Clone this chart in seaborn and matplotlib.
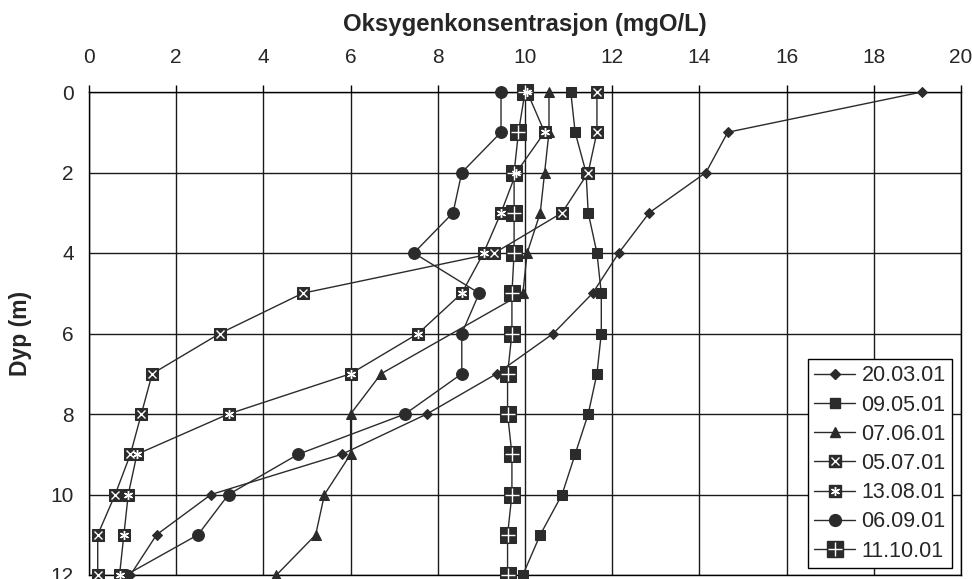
import numpy as np
import pandas as pd
import matplotlib
matplotlib.use("Agg")
import matplotlib.pyplot as plt
import matplotlib.lines as mlines
from matplotlib.legend_handler import HandlerTuple
import seaborn as sns

# Dybde (m) og oksygenkonsentrasjon (mgO/L) for hver prøvedato
depth = [0, 1, 2, 3, 4, 5, 6, 7, 8, 9, 10, 11, 12]
o2_200301 = [19.1, 14.65, 14.15, 12.85, 12.15, 11.55, 10.65, 9.35, 7.75, 5.8, 2.8, 1.55, 0.95]
o2_090501 = [11.05, 11.15, 11.4, 11.45, 11.65, 11.75, 11.75, 11.65, 11.45, 11.15, 10.85, 10.35, 9.95]
o2_070601 = [10.55, 10.55, 10.45, 10.35, 10.05, 9.95, np.nan, 6.7, 6.0, 6.0, 5.4, 5.2, 4.3]
o2_050701 = [11.65, 11.65, 11.45, 10.85, 9.3, 4.9, 3.0, 1.45, 1.2, 0.95, 0.6, 0.2, 0.2]
o2_130801 = [10.05, 10.45, 9.8, 9.45, 9.05, 8.55, 7.55, 6.0, 3.2, 1.1, 0.9, 0.8, 0.7]
o2_060901 = [9.45, 9.45, 8.55, 8.35, 7.45, 8.95, 8.55, 8.55, 7.25, 4.8, 3.2, 2.5, 0.85]
o2_111001 = [10.0, 9.85, 9.75, 9.75, 9.75, 9.7, 9.7, 9.6, 9.6, 9.7, 9.7, 9.6, 9.6]

labels = ["20.03.01", "09.05.01", "07.06.01", "05.07.01", "13.08.01", "06.09.01", "11.10.01"]
series = [o2_200301, o2_090501, o2_070601, o2_050701, o2_130801, o2_060901, o2_111001]
x_ticks = [0, 2, 4, 6, 8, 10, 12, 14, 16, 18, 20]
y_ticks = [0, 2, 4, 6, 8, 10, 12]

frames = []
for lab, vals in zip(labels, series):
    frames.append(pd.DataFrame({"dyp": depth, "o2": vals, "dato": lab}))
df = pd.concat(frames, ignore_index=True).dropna()

dark = "#2b2b2b"
# (marker, size, white glyph on top, glyph size)
styles = {
    "20.03.01": ("D", 5, None, 0),
    "09.05.01": ("s", 7.5, None, 0),
    "07.06.01": ("^", 7.5, None, 0),
    "05.07.01": ("s", 8.5, "x", 6),
    "13.08.01": ("s", 8.5, (6, 2, 0), 6.5),
    "06.09.01": ("o", 8.5, None, 0),
    "11.10.01": ("s", 12, "+", 10),
}

sns.set_style("white")
plt.rcParams["font.family"] = ["Liberation Sans", "DejaVu Sans"]

fig = plt.figure(figsize=(9.72, 5.79), dpi=100)
ax = fig.add_axes([89 / 972, 1 - 575 / 579, 872 / 972, 483 / 579])

handles = []
for lab in labels:
    m, ms, glyph, gs = styles[lab]
    sub = df[df["dato"] == lab]
    sns.lineplot(data=sub, x="o2", y="dyp", sort=False, estimator=None, ax=ax,
                 color=dark, lw=1.0, marker=m, markersize=ms,
                 markeredgecolor=dark, markerfacecolor=dark, clip_on=False, zorder=3)
    h = mlines.Line2D([], [], color=dark, lw=1.0, marker=m, markersize=ms,
                      markerfacecolor=dark, markeredgecolor=dark)
    if glyph is not None:
        ax.plot(sub["o2"], sub["dyp"], ls="none", marker=glyph, markersize=gs,
                color="white", mew=1.0, clip_on=False, zorder=4)
        g = mlines.Line2D([], [], ls="none", marker=glyph, markersize=gs,
                          color="white", mew=1.0)
        handles.append((h, g))
    else:
        handles.append(h)

ax.set_xlim(0, 20)
ax.set_ylim(12, 0)
ax.set_xticks(x_ticks)
ax.set_yticks(y_ticks)
ax.xaxis.tick_top()
ax.xaxis.set_label_position("top")
ax.tick_params(axis="both", labelsize=15, length=5, width=1, color="black",
               direction="out")
ax.tick_params(axis="x", pad=13)
ax.tick_params(axis="y", pad=6)
ax.grid(True, color="#1a1a1a", lw=1.0)
ax.set_axisbelow(True)
for sp in ax.spines.values():
    sp.set_color("black")
    sp.set_linewidth(1.0)

ax.set_xlabel("Oksygenkonsentrasjon (mgO/L)", fontsize=17.3, fontweight="bold", labelpad=12)
ax.set_ylabel("Dyp (m)", fontsize=16.5, fontweight="bold", labelpad=13)

leg = ax.legend(handles, labels, loc="lower right", bbox_to_anchor=(0.99, 0.0145),
                borderaxespad=0, fontsize=15.5, frameon=True, fancybox=False,
                framealpha=1, edgecolor="black", handlelength=1.9, handletextpad=0.3,
                labelspacing=0.38, borderpad=0.3,
                handler_map={tuple: HandlerTuple(ndivide=1)})
leg.get_frame().set_linewidth(1.0)
leg.set_zorder(10)

fig.savefig("out.png", dpi=100)
